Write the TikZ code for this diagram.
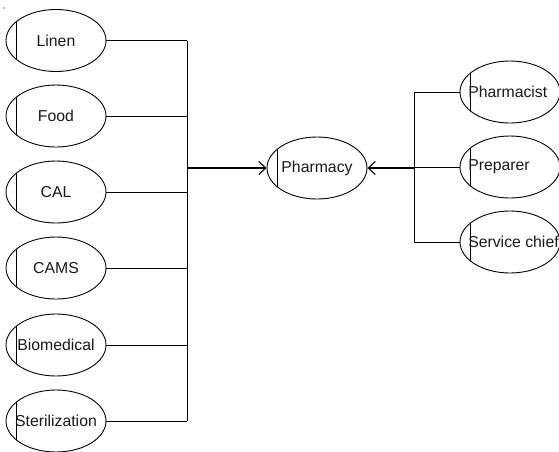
\documentclass[tikz,border=0pt]{standalone}
\usepackage{fontspec}
\setmainfont{Liberation Sans}
\usetikzlibrary{shapes.geometric,arrows.meta}
\tikzset{
  ent/.style={ellipse, draw=black, line width=0.9pt, minimum width=100pt, minimum height=62pt, inner sep=0pt,
    path picture={\draw[line width=0.9pt] ([xshift=10.5pt]path picture bounding box.south west) -- ([xshift=10.5pt]path picture bounding box.north west);}},
  lab/.style={font=\fontsize{15.8pt}{18pt}\selectfont, text=black!90, inner sep=0pt},
  conn/.style={draw=black, line width=0.9pt},
  arr/.style={draw=black, line width=1.2pt, -{Straight Barb[length=7pt,width=13pt,line width=1.1pt]}},
}
\begin{document}
\begin{tikzpicture}[x=1pt,y=-1pt]
\useasboundingbox (0,0) rectangle (559,451);
\fill[black] (4,8) circle (0.6pt);
% left entities
\node[ent] (linen) at (56,40.5) {};
\node[ent] (food) at (56,116) {};
\node[ent] (cal) at (56,192) {};
\node[ent] (cams) at (56,268) {};
\node[ent] (bio) at (56,345) {};
\node[ent] (ster) at (56,421) {};
\node[lab] (linenT) at (linen) {Linen};
\node[lab] (foodT) at (food) {Food};
\node[lab] (calT) at (cal) {CAL};
\node[lab] (camsT) at (cams) {CAMS};
\node[lab] (bioT) at (bio) {Biomedical};
\node[lab] (sterT) at (ster) {Sterilization};
% center
\node[ent] (pharm) at (317,168) {};
\node[lab] (pharmT) at (pharm) {Pharmacy};
% right
\node[ent] (pist) at (510,92) {};
\node[ent] (prep) at (510,167) {};
\node[ent] (chief) at (510,242) {};
\node[lab, anchor=west] (pistT) at ([xshift=8.5pt]pist.west) {Pharmacist};
\node[lab, anchor=west] (prepT) at ([xshift=8.5pt]prep.west) {Preparer};
\node[lab, anchor=west] (chiefT) at ([xshift=8.5pt]chief.west) {Service chief};
% buses
\coordinate (lbx) at (187,0);
\coordinate (rbx) at (414,0);
\foreach \n in {linen,food,cal,cams,bio,ster}{
  \draw[conn] (\n) -- (\n -| lbx);
}
\draw[conn] (linen -| lbx) -- (ster -| lbx);
\foreach \n in {pist,prep,chief}{
  \draw[conn] (\n) -- (\n -| rbx);
}
\draw[conn] (pist -| rbx) -- (chief -| rbx);
\draw[arr] (pharm -| lbx) -- (pharm);
\draw[arr] (pharm -| rbx) -- (pharm);
\end{tikzpicture}
\end{document}
